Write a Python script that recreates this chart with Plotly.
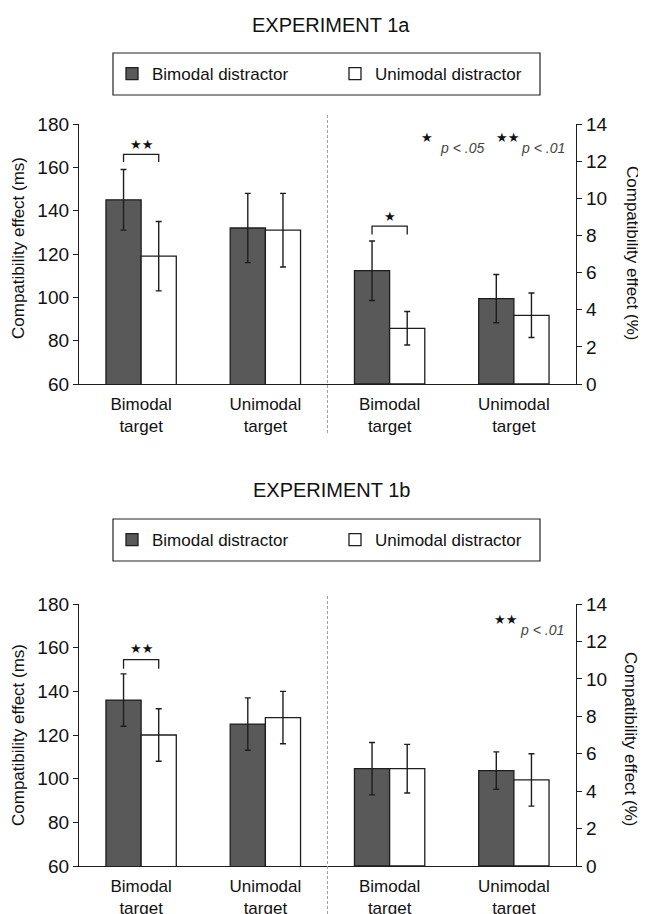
import plotly.graph_objects as go

# ---------------- data ----------------
categories = ["Bimodal<br>target", "Unimodal<br>target"]
series_names = ["Bimodal distractor", "Unimodal distractor"]

# Experiment 1a - RT compatibility effect (ms)
exp1a_ms_bimodal = [145, 132]
exp1a_ms_unimodal = [119, 131]
exp1a_ms_bimodal_err = [14, 16]
exp1a_ms_unimodal_err = [16, 17]
# Experiment 1a - error compatibility effect (%)
exp1a_pct_bimodal = [6.1, 4.6]
exp1a_pct_unimodal = [3.0, 3.7]
exp1a_pct_bimodal_err = [1.6, 1.3]
exp1a_pct_unimodal_err = [0.9, 1.2]

# Experiment 1b - RT compatibility effect (ms)
exp1b_ms_bimodal = [136, 125]
exp1b_ms_unimodal = [120, 128]
exp1b_ms_bimodal_err = [12, 12]
exp1b_ms_unimodal_err = [12, 12]
# Experiment 1b - error compatibility effect (%)
exp1b_pct_bimodal = [5.2, 5.1]
exp1b_pct_unimodal = [5.2, 4.6]
exp1b_pct_bimodal_err = [1.4, 1.0]
exp1b_pct_unimodal_err = [1.3, 1.4]

ms_ticks = [60, 80, 100, 120, 140, 160, 180]
pct_ticks = [0, 2, 4, 6, 8, 10, 12, 14]

# significance brackets: (panel, measure, category index, label, leg level, top level, label level)
brackets = [
    ("1a", "ms", 0, "★★", 162.5, 166.0, 170.6),
    ("1a", "pct", 0, "★", 8.05, 8.5, 9.0),
    ("1b", "ms", 0, "★★", 150.4, 154.5, 159.4),
]

# ---------------- geometry / style ----------------
PAGE_W, PAGE_H = 646, 914
OFF = 8                      # default body margin of the html page
FIG_W, FIG_H = PAGE_W - OFF, PAGE_H - OFF
L, R, T, B = 79, 576, 124, 866   # plot area in page pixels
TOP_BOTTOM_PX = 384
BOT_TOP_PX = 604
BAR_W = 0.283
DARK = "#595959"
LINE = "#1e1e1e"
FONT = "Liberation Sans, Arial, sans-serif"
STAR_FONT = "DejaVu Sans"


def px(xp):
    return (xp - L) / (R - L)


def py(yp):
    return (B - yp) / (B - T)


x_left = [0, 1]
x_right = [2, 3]
x_range = [-0.5, 3.5]

fig = go.Figure()

panels = {
    "1a": dict(x="x", yms="y", ypct="y2",
               ms=(exp1a_ms_bimodal, exp1a_ms_unimodal, exp1a_ms_bimodal_err, exp1a_ms_unimodal_err),
               pct=(exp1a_pct_bimodal, exp1a_pct_unimodal, exp1a_pct_bimodal_err, exp1a_pct_unimodal_err),
               legend="legend"),
    "1b": dict(x="x2", yms="y3", ypct="y4",
               ms=(exp1b_ms_bimodal, exp1b_ms_unimodal, exp1b_ms_bimodal_err, exp1b_ms_unimodal_err),
               pct=(exp1b_pct_bimodal, exp1b_pct_unimodal, exp1b_pct_bimodal_err, exp1b_pct_unimodal_err),
               legend="legend2"),
}


def err(vals):
    return dict(type="data", array=vals, visible=True, color=LINE, thickness=1.4, width=3)


for key, p in panels.items():
    for half, xs, yax, show in (("ms", x_left, p["yms"], True), ("pct", x_right, p["ypct"], False)):
        vb, vu, eb, eu = p[half]
        fig.add_trace(go.Bar(
            x=xs, y=vb, width=BAR_W, offset=-BAR_W, name=series_names[0],
            marker=dict(color=DARK, line=dict(color=LINE, width=1.3)),
            error_y=err(eb), xaxis=p["x"], yaxis=yax,
            showlegend=show, legend=p["legend"], hoverinfo="skip"))
        fig.add_trace(go.Bar(
            x=xs, y=vu, width=BAR_W, offset=0, name=series_names[1],
            marker=dict(color="white", line=dict(color=LINE, width=1.3)),
            error_y=err(eu), xaxis=p["x"], yaxis=yax,
            showlegend=show, legend=p["legend"], hoverinfo="skip"))

shapes = []
annotations = []

# brackets
for panel, meas, ci, label, leg, top, star_y in brackets:
    p = panels[panel]
    xr = p["x"]
    yr = p["yms"] if meas == "ms" else p["ypct"]
    xpos = (x_left if meas == "ms" else x_right)[ci]
    x0, x1 = xpos - BAR_W / 2, xpos + BAR_W / 2
    shapes.append(dict(type="path", xref=xr, yref=yr,
                       path=f"M {x0},{leg} L {x0},{top} L {x1},{top} L {x1},{leg}",
                       line=dict(color=LINE, width=1.3)))
    annotations.append(dict(x=xpos, y=star_y, xref=xr, yref=yr, text=label, showarrow=False,
                            xanchor="center", yanchor="middle",
                            font=dict(family=STAR_FONT, size=13, color="#111")))

# dashed separators (between the two halves, at category boundary 1.5)
sep_frac = (1.5 - x_range[0]) / (x_range[1] - x_range[0])
for (y0p, y1p) in ((113, 433), (595, 914)):
    shapes.append(dict(type="line", xref="paper", yref="paper", x0=sep_frac, x1=sep_frac,
                       y0=py(y1p), y1=py(y0p), line=dict(color="#a0a0a0", width=1, dash="3px,2px")))

# legend boxes
for (y0p, y1p) in ((53, 95), (519, 561)):
    shapes.append(dict(type="rect", xref="paper", yref="paper", x0=px(113), x1=px(540),
                       y0=py(y1p), y1=py(y0p), line=dict(color="#222", width=1.2),
                       fillcolor="rgba(0,0,0,0)"))

# titles
for text, yp in (("EXPERIMENT 1a", 25), ("EXPERIMENT 1b", 490)):
    annotations.append(dict(x=px(331), y=py(yp), xref="paper", yref="paper", text=text, showarrow=False,
                            font=dict(family=FONT, size=20, color="#111"),
                            xanchor="center", yanchor="middle"))

# axis titles
for text, xp, yp, ang in (("Compatibility effect (ms)", 18, 248, -90),
                          ("Compatibility effect (%)", 632, 253, 90),
                          ("Compatibility effect (ms)", 18, 735, -90),
                          ("Compatibility effect (%)", 631, 739, 90)):
    annotations.append(dict(x=px(xp), y=py(yp), xref="paper", yref="paper", text=text, showarrow=False,
                            textangle=ang, font=dict(family=FONT, size=17, color="#111"),
                            xanchor="center", yanchor="middle"))

# p-value keys
for star, sx, sy, ptxt, tx, ty in (("★", 427, 137.5, "p &lt; .05", 461.5, 148),
                                    ("★★", 507, 137.5, "p &lt; .01", 542.5, 148),
                                    ("★★", 505.5, 619.5, "p &lt; .01", 542, 630)):
    annotations.append(dict(x=px(sx), y=py(sy), xref="paper", yref="paper", text=star, showarrow=False,
                            xanchor="center", yanchor="middle",
                            font=dict(family=STAR_FONT, size=13, color="#111")))
    annotations.append(dict(x=px(tx), y=py(ty), xref="paper", yref="paper", text=f"<i>{ptxt}</i>",
                            showarrow=False, xanchor="center", yanchor="middle",
                            font=dict(family=FONT, size=14, color="#444")))

xaxis_common = dict(range=x_range, tickvals=x_left + x_right, ticktext=categories + categories,
                    showline=True, linecolor=LINE, linewidth=1.3, ticks="", showgrid=False,
                    zeroline=False, ticklabelstandoff=4,
                    tickfont=dict(family=FONT, size=17, color="#111"), fixedrange=True)
yms_common = dict(range=[ms_ticks[0], ms_ticks[-1]], tickvals=ms_ticks, showline=True, linecolor=LINE,
                  linewidth=1.3, ticks="outside", ticklen=5, tickcolor=LINE, tickwidth=1.2,
                  showgrid=False, zeroline=False, tickfont=dict(family=FONT, size=19, color="#111"))
ypct_common = dict(range=[pct_ticks[0], pct_ticks[-1]], tickvals=pct_ticks, showline=True, linecolor=LINE,
                   linewidth=1.3, ticks="outside", ticklen=5, tickcolor=LINE, tickwidth=1.2,
                   showgrid=False, zeroline=False, side="right",
                   tickfont=dict(family=FONT, size=19, color="#111"))

legend_common = dict(orientation="h", xref="container", yref="container", xanchor="left",
                     yanchor="middle", font=dict(family=FONT, size=17, color="#111"),
                     bgcolor="rgba(0,0,0,0)", borderwidth=0, entrywidth=178, entrywidthmode="pixels",
                     traceorder="normal")

fig.update_layout(
    width=FIG_W, height=FIG_H,
    margin=dict(l=L - OFF, r=PAGE_W - R, t=T - OFF, b=PAGE_H - B, autoexpand=False),
    paper_bgcolor="white", plot_bgcolor="white",
    barmode="overlay",
    xaxis=dict(domain=[0, 1], anchor="y", **xaxis_common),
    xaxis2=dict(domain=[0, 1], anchor="y3", **xaxis_common),
    yaxis=dict(domain=[py(TOP_BOTTOM_PX), 1], anchor="x", **yms_common),
    yaxis2=dict(overlaying="y", anchor="x", **ypct_common),
    yaxis3=dict(domain=[0, py(BOT_TOP_PX)], anchor="x2", **yms_common),
    yaxis4=dict(overlaying="y3", anchor="x2", **ypct_common),
    legend=dict(x=(112 - OFF) / FIG_W, y=1 - (74 - OFF) / FIG_H, **legend_common),
    legend2=dict(x=(112 - OFF) / FIG_W, y=1 - (540 - OFF) / FIG_H, **legend_common),
    shapes=shapes,
    annotations=annotations,
    font=dict(family=FONT, color="#111"),
)

fig.write_html("out.html")
